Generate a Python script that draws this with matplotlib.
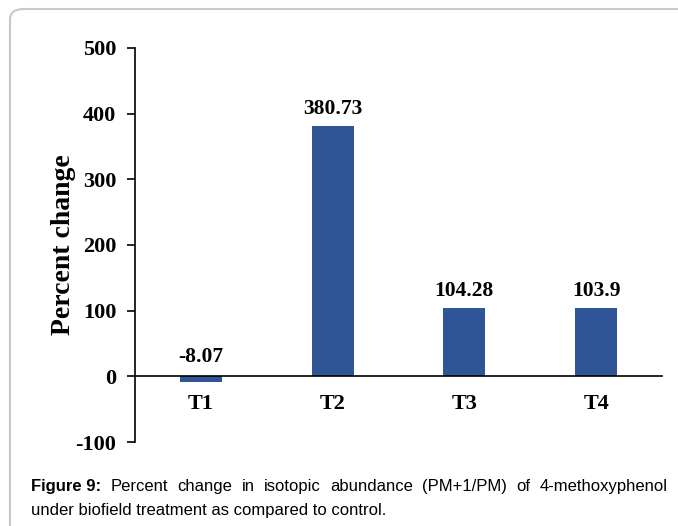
import matplotlib
matplotlib.use('Agg')

import matplotlib.pyplot as plt
from matplotlib.patches import FancyBboxPatch

# data
categories = ['T1', 'T2', 'T3', 'T4']
pct_change = [-8.07, 380.73, 104.28, 103.9]
value_labels = ['-8.07', '380.73', '104.28', '103.9']
yticks = [-100, 0, 100, 200, 300, 400, 500]

caption_1 = 'Percent change in isotopic abundance (PM+1/PM) of 4-methoxyphenol'
caption_2 = 'under biofield treatment as compared to control.'

W, H = 678, 526
fig = plt.figure(figsize=(W / 100, H / 100), dpi=100)

serif = ['Liberation Serif', 'DejaVu Serif']
sans = ['Liberation Sans', 'DejaVu Sans']

# rounded frame around the figure panel
frame = FancyBboxPatch((10 / W, -0.2), 1.2, 1 - 9 / H + 0.2,
                       boxstyle='round,pad=0,rounding_size=0.02',
                       transform=fig.transFigure, fill=False,
                       edgecolor='#c8c8c8', linewidth=1.5)
fig.patches.append(frame)

ax = fig.add_axes([135 / W, (H - 442) / H, (662 - 135) / W, (442 - 48) / H])
ax.spines['top'].set_visible(False)
ax.spines['right'].set_visible(False)
ax.spines['bottom'].set_position(('data', 0))
ax.spines['bottom'].set_zorder(3)
ax.spines['left'].set_linewidth(1.2)
ax.spines['bottom'].set_linewidth(1.2)

x = range(len(categories))
ax.bar(x, pct_change, width=0.32, color='#2f5597', zorder=2)

ax.set_xlim(-0.5, 3.5)
ax.set_ylim(-100, 500)
ax.set_yticks(yticks)
ax.set_yticklabels([str(t) for t in yticks], family=serif, fontsize=16,
                   fontweight='bold')
ax.set_xticks(list(x))
ax.set_xticklabels(categories, family=serif, fontsize=16, fontweight='bold')
ax.tick_params(axis='y', length=5.5, width=1.2, pad=8)
ax.tick_params(axis='x', length=0, pad=13)

ax.set_ylabel('Percent change', family=serif, fontsize=20, fontweight='bold')
ax.yaxis.set_label_coords(-0.112, 0.5)

for i, v in enumerate(pct_change):
    ax.annotate(value_labels[i], (i, max(v, 0)), xytext=(0, 5 if v > 0 else 7),
                textcoords='offset points', ha='center', va='bottom',
                family=serif, fontsize=15.5, fontweight='bold')

# caption, first line justified between x=31 and x=668
fs = 12
x0, x1 = 31, 668
words = [('Figure 9:', 'bold')] + [(w, 'normal') for w in caption_1.split()]
renderer = fig.canvas.get_renderer()
texts = []
for w, weight in words:
    t = fig.text(0, 1 - 491 / H, w, family=sans, fontsize=fs,
                 fontweight=weight, va='baseline')
    texts.append(t)
widths = [t.get_window_extent(renderer).width for t in texts]
gap = (x1 - x0 - sum(widths)) / (len(texts) - 1)
pos = x0
for t, wd in zip(texts, widths):
    t.set_x(pos / W)
    pos += wd + gap

fig.text(x0 / W, 1 - 515 / H, caption_2, family=sans, fontsize=fs,
         va='baseline')

fig.savefig('out.png', dpi=100)
